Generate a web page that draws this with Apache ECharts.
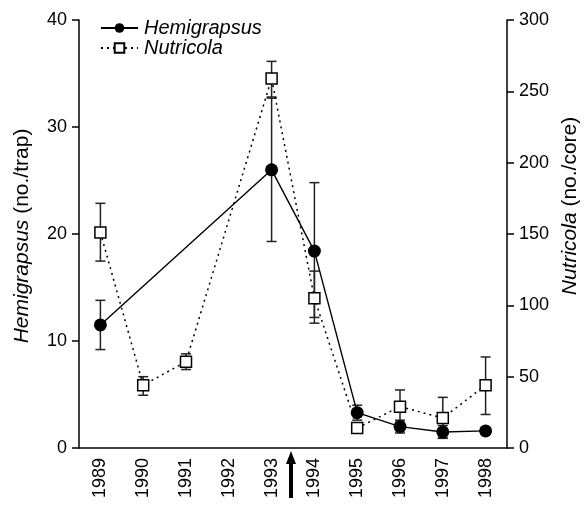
<!DOCTYPE html>
<html>
<head>
<meta charset="utf-8">
<script src="https://cdn.jsdelivr.net/npm/echarts@6/dist/echarts.min.js"></script>
<style>
  html, body { margin: 0; padding: 0; background: #fff; }
  #chart { width: 584px; height: 510px; }
</style>
</head>
<body>
<div id="chart"></div>
<script>
// years on the x axis
var years = ['1989', '1990', '1991', '1992', '1993', '1994', '1995', '1996', '1997', '1998'];

// Hemigrapsus (no./trap), left axis
var hemiMean = [11.5, null, null, null, 26.0, 18.4, 3.3, 2.0, 1.5, 1.6];
var hemiLow  = [9.2, null, null, null, 19.3, 12.2, 2.6, 1.4, 0.9, 1.3];
var hemiHigh = [13.8, null, null, null, 32.7, 24.8, 4.0, 2.6, 2.1, 1.9];

// Nutricola (no./core), right axis
var nutMean = [151, 44, 60.5, null, 259, 105, 14, 29, 21, 44];
var nutLow  = [131, 37, 55, null, 246, 87.5, 11, 18, 7, 23.5];
var nutHigh = [171.5, 50, 66, null, 271, 124, 17, 40.7, 35.5, 63.8];

var fontFam = '"Liberation Sans", Arial, Helvetica, sans-serif';

function errData(lo, hi) {
  var out = [];
  for (var i = 0; i < lo.length; i++) {
    if (lo[i] != null) out.push([i, lo[i], hi[i]]);
  }
  return out;
}

// error bar with caps
function errRender(params, api) {
  var x = api.value(0);
  var top = api.coord([x, api.value(2)]);
  var bot = api.coord([x, api.value(1)]);
  var w = 5;
  var st = { stroke: '#222', lineWidth: 1.5 };
  return {
    type: 'group',
    children: [
      { type: 'line', shape: { x1: top[0], y1: top[1], x2: bot[0], y2: bot[1] }, style: st },
      { type: 'line', shape: { x1: top[0] - w, y1: top[1], x2: top[0] + w, y2: top[1] }, style: st },
      { type: 'line', shape: { x1: bot[0] - w, y1: bot[1], x2: bot[0] + w, y2: bot[1] }, style: st }
    ]
  };
}

var chart = echarts.init(document.getElementById('chart'));

var option = {
  animation: false,
  backgroundColor: '#fff',
  textStyle: { fontFamily: fontFam },
  grid: { left: 79, right: 77, top: 20, bottom: 62, outerBoundsMode: 'none', containLabel: false },
  legend: {
    left: 100,
    top: 18,
    padding: 0,
    orient: 'vertical',
    itemWidth: 37,
    itemHeight: 12,
    itemGap: 0,
    data: ['Hemigrapsus', 'Nutricola'],
    textStyle: {
      fontFamily: fontFam, fontSize: 20, fontStyle: 'italic', color: '#000',
      lineHeight: 19, padding: [0, 0, 0, 1]
    }
  },
  xAxis: {
    type: 'category',
    data: years,
    boundaryGap: true,
    axisLine: { lineStyle: { color: '#000', width: 1.5 } },
    axisTick: { alignWithLabel: true, length: 7, lineStyle: { color: '#000', width: 1.5 } },
    axisLabel: { rotate: 90, fontSize: 18, color: '#000', margin: 10, fontFamily: fontFam },
    splitLine: { show: false }
  },
  yAxis: [
    {
      type: 'value',
      min: 0, max: 40, interval: 10,
      position: 'left',
      name: '{i|Hemigrapsus} (no./trap)',
      nameLocation: 'middle',
      nameRotate: 90,
      nameGap: 46,
      nameTextStyle: {
        fontSize: 21, color: '#000', fontFamily: fontFam,
        padding: [0, 0, 0, -4],
        rich: { i: { fontStyle: 'italic', fontSize: 21, fontFamily: fontFam, color: '#000' } }
      },
      axisLine: { show: true, lineStyle: { color: '#000', width: 1.5 } },
      axisTick: { show: true, length: 7, lineStyle: { color: '#000', width: 1.5 } },
      axisLabel: { fontSize: 18, color: '#000', margin: 12, fontFamily: fontFam },
      splitLine: { show: false }
    },
    {
      type: 'value',
      min: 0, max: 300, interval: 50,
      position: 'right',
      name: '{i|Nutricola} (no./core)',
      nameLocation: 'middle',
      nameRotate: 90,
      nameGap: 51,
      nameTextStyle: {
        fontSize: 21, color: '#000', fontFamily: fontFam,
        padding: [0, 0, 0, 56],
        rich: { i: { fontStyle: 'italic', fontSize: 21, fontFamily: fontFam, color: '#000' } }
      },
      axisLine: { show: true, lineStyle: { color: '#000', width: 1.5 } },
      axisTick: { show: true, length: 7, lineStyle: { color: '#000', width: 1.5 } },
      axisLabel: { fontSize: 18, color: '#000', margin: 12, fontFamily: fontFam },
      splitLine: { show: false }
    }
  ],
  series: [
    {
      name: 'Nutricola',
      type: 'line',
      yAxisIndex: 1,
      data: nutMean,
      connectNulls: true,
      symbol: 'rect',
      symbolSize: 11,
      lineStyle: { color: '#000', width: 1.5, type: [2, 4] },
      itemStyle: { color: '#fff', borderColor: '#000', borderWidth: 1.5 },
      z: 4
    },
    {
      name: 'Hemigrapsus',
      type: 'line',
      yAxisIndex: 0,
      data: hemiMean,
      connectNulls: true,
      symbol: 'circle',
      symbolSize: 13,
      lineStyle: { color: '#000', width: 1.4 },
      itemStyle: { color: '#000' },
      z: 5
    },
    {
      type: 'custom',
      yAxisIndex: 1,
      renderItem: errRender,
      data: errData(nutLow, nutHigh),
      z: 3
    },
    {
      type: 'custom',
      yAxisIndex: 0,
      renderItem: errRender,
      data: errData(hemiLow, hemiHigh),
      z: 3
    }
  ],
  graphic: [
    {
      // arrow annotation between 1993 and 1994
      type: 'polygon',
      shape: {
        points: [[291, 451], [296, 464], [293, 464], [293, 498], [289, 498], [289, 464], [286, 464]]
      },
      style: { fill: '#000' }
    }
  ]
};

chart.setOption(option);
</script>
</body>
</html>
